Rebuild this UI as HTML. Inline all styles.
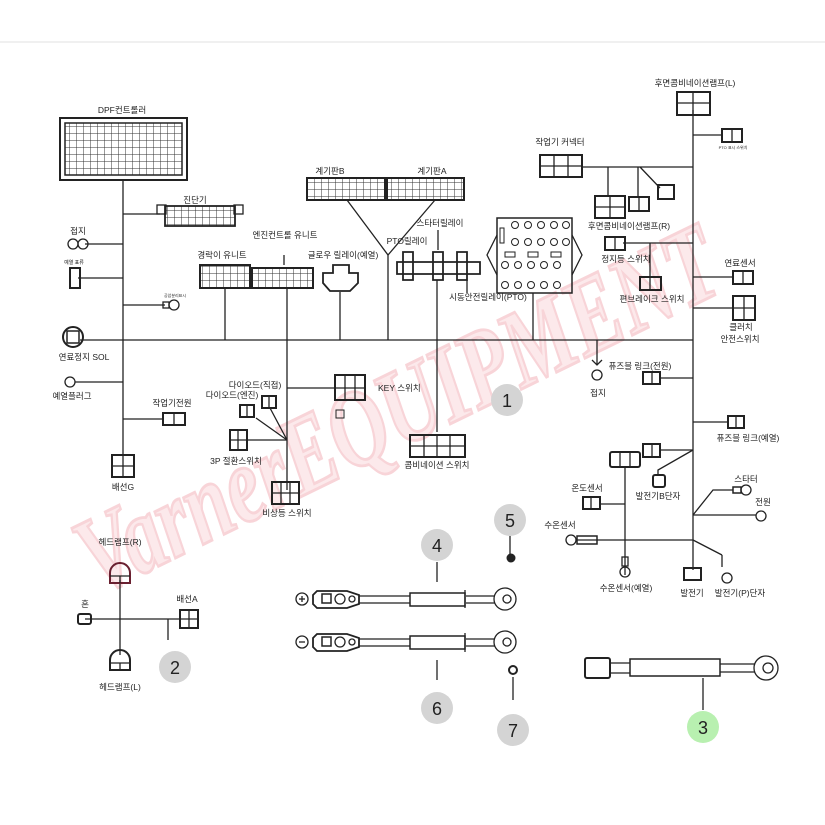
<!DOCTYPE html>
<html><head><meta charset="utf-8"><style>
html,body{margin:0;padding:0;background:#fff}
svg{display:block}
text{font-family:"Liberation Sans","Noto Sans CJK KR",sans-serif;fill:#222}
</style></head><body>
<svg width="825" height="825" viewBox="0 0 825 825" xmlns="http://www.w3.org/2000/svg">
<defs>
<pattern id="g" width="7" height="7" patternUnits="userSpaceOnUse"><path d="M0 0H7V7" fill="none" stroke="#333" stroke-width="1"/></pattern>
</defs>
<rect width="825" height="825" fill="#fff"/>
<line x1="0" y1="42" x2="825" y2="42" stroke="#e2e2e2" stroke-width="1"/>

<!-- watermark -->
<g transform="translate(400,415) rotate(-26)" opacity="0.22">
<text x="0" y="30" text-anchor="middle" font-size="110" font-style="italic" font-weight="bold" textLength="700" lengthAdjust="spacingAndGlyphs" style="fill:#f4a0a8;stroke:#e04050;stroke-width:3;font-family:'Liberation Serif',serif">VarnerEQUIPMENT</text>
</g>

<g stroke="#222" stroke-width="1.3" fill="none">
<line x1="80" y1="340" x2="693" y2="340"/>
<line x1="123" y1="180" x2="123" y2="455"/>
<line x1="693" y1="110" x2="693" y2="570"/>
<rect x="60" y="118" width="127" height="62" stroke-width="2"/>
<rect x="65" y="123" width="117" height="52" fill="url(#g)" stroke-width="1.5"/>
<line x1="123" y1="214" x2="160" y2="214"/>
<rect x="165" y="206" width="70" height="20" fill="url(#g)" stroke-width="1.8"/>
<rect x="157" y="205" width="9" height="9"/><rect x="234" y="205" width="9" height="9"/>
<line x1="85" y1="244" x2="123" y2="244"/>
<circle cx="73" cy="244" r="5"/><circle cx="83" cy="244" r="5"/>
<line x1="78" y1="278" x2="123" y2="278"/>
<rect x="70" y="268" width="10" height="20" stroke-width="2"/>
<line x1="123" y1="305" x2="165" y2="305"/>
<circle cx="174" cy="305" r="5"/><rect x="163" y="302" width="6" height="6"/>
<circle cx="73" cy="337" r="10" stroke-width="2"/><rect x="67" y="331" width="12" height="12" stroke-width="1.5"/>
<line x1="75" y1="382" x2="123" y2="382"/><circle cx="70" cy="382" r="5"/>
<line x1="123" y1="419" x2="163" y2="419"/>
<rect x="163" y="413" width="22" height="12" stroke-width="2"/><line x1="174" y1="413" x2="174" y2="425"/>
<rect x="112" y="455" width="22" height="22" stroke-width="2"/><line x1="123" y1="455" x2="123" y2="477"/><line x1="112" y1="466" x2="134" y2="466"/>
<rect x="307" y="178" width="78" height="22" fill="url(#g)" stroke-width="2"/>
<rect x="387" y="178" width="77" height="22" fill="url(#g)" stroke-width="2"/>
<line x1="347" y1="200" x2="388" y2="255"/><line x1="435" y1="200" x2="388" y2="255"/>
<line x1="388" y1="255" x2="388" y2="340"/>
<rect x="200" y="265" width="50" height="23" fill="url(#g)" stroke-width="2"/>
<rect x="252" y="268" width="61" height="20" fill="url(#g)" stroke-width="2"/>
<line x1="284" y1="255" x2="284" y2="265"/>
<line x1="225" y1="288" x2="225" y2="340"/>
<line x1="287" y1="288" x2="287" y2="490"/>
<path d="M323 273h10v-8h16v8h9v10l-8 8h-20l-7-8z" stroke-width="1.8"/>
<line x1="340" y1="292" x2="340" y2="340"/>
<path d="M397 262h83v12h-83z M403 252h10v28h-10z M433 252h10v28h-10z M457 252h10v28h-10z" stroke-width="1.8"/>
<line x1="438" y1="230" x2="438" y2="250"/>
<line x1="437" y1="280" x2="437" y2="340"/>
<line x1="467" y1="280" x2="467" y2="293"/>
<rect x="497" y="218" width="75" height="75" stroke-width="1.5"/>
<path d="M497 235l-10 20 10 20M572 235l10 20-10 20"/>
<g stroke-width="1">
<circle cx="515" cy="225" r="3.5"/><circle cx="528" cy="225" r="3.5"/><circle cx="541" cy="225" r="3.5"/><circle cx="554" cy="225" r="3.5"/><circle cx="566" cy="225" r="3.5"/>
<circle cx="515" cy="242" r="3.5"/><circle cx="528" cy="242" r="3.5"/><circle cx="541" cy="242" r="3.5"/><circle cx="554" cy="242" r="3.5"/><circle cx="566" cy="242" r="3.5"/>
<circle cx="505" cy="265" r="3.5"/><circle cx="518" cy="265" r="3.5"/><circle cx="531" cy="265" r="3.5"/><circle cx="544" cy="265" r="3.5"/><circle cx="557" cy="265" r="3.5"/>
<circle cx="505" cy="285" r="3.5"/><circle cx="518" cy="285" r="3.5"/><circle cx="531" cy="285" r="3.5"/><circle cx="544" cy="285" r="3.5"/><circle cx="557" cy="285" r="3.5"/>
<rect x="505" y="252" width="10" height="5"/><rect x="528" y="252" width="10" height="5"/><rect x="551" y="252" width="10" height="5"/>
<rect x="500" y="228" width="4" height="15"/>
</g>
<line x1="533" y1="293" x2="533" y2="340"/>
<rect x="677" y="92" width="33" height="23" stroke-width="2"/><line x1="693" y1="92" x2="693" y2="115"/><line x1="677" y1="103" x2="710" y2="103"/>
<line x1="693" y1="135" x2="722" y2="135"/>
<rect x="722" y="129" width="20" height="13" stroke-width="2"/><line x1="732" y1="129" x2="732" y2="142"/>
<line x1="582" y1="167" x2="693" y2="167"/>
<rect x="540" y="155" width="42" height="22" stroke-width="2"/><line x1="554" y1="155" x2="554" y2="177"/><line x1="568" y1="155" x2="568" y2="177"/><line x1="540" y1="166" x2="582" y2="166"/>
<line x1="608" y1="167" x2="608" y2="196"/><line x1="638" y1="167" x2="638" y2="197"/><line x1="640" y1="167" x2="660" y2="188"/>
<rect x="595" y="196" width="30" height="22" stroke-width="2"/><line x1="610" y1="196" x2="610" y2="218"/><line x1="595" y1="207" x2="625" y2="207"/>
<rect x="629" y="197" width="20" height="14" stroke-width="2"/><line x1="639" y1="197" x2="639" y2="211"/>
<rect x="658" y="185" width="16" height="14" stroke-width="2"/>
<line x1="623" y1="243" x2="693" y2="243"/>
<rect x="605" y="237" width="20" height="13" stroke-width="2"/><line x1="615" y1="237" x2="615" y2="250"/>
<line x1="650" y1="243" x2="650" y2="277"/>
<rect x="640" y="277" width="21" height="13" stroke-width="2"/><line x1="650" y1="277" x2="650" y2="290"/>
<line x1="693" y1="277" x2="733" y2="277"/>
<rect x="733" y="271" width="20" height="13" stroke-width="2"/><line x1="743" y1="271" x2="743" y2="284"/>
<line x1="693" y1="308" x2="733" y2="308"/>
<rect x="733" y="296" width="22" height="24" stroke-width="2"/><line x1="744" y1="296" x2="744" y2="320"/><line x1="733" y1="308" x2="755" y2="308"/>
<line x1="597" y1="340" x2="597" y2="365"/><path d="M592 360l5 5 5-5"/><circle cx="597" cy="375" r="5"/>
<line x1="660" y1="378" x2="693" y2="378"/>
<rect x="643" y="372" width="17" height="12" stroke-width="2"/><line x1="652" y1="372" x2="652" y2="384"/>
<line x1="693" y1="422" x2="728" y2="422"/>
<rect x="728" y="416" width="16" height="12" stroke-width="2"/><line x1="736" y1="416" x2="736" y2="428"/>
<line x1="660" y1="450" x2="693" y2="450"/><path d="M693 450l-35 20v6"/>
<rect x="643" y="444" width="17" height="13" stroke-width="2"/><line x1="652" y1="444" x2="652" y2="457"/>
<rect x="610" y="452" width="30" height="15" rx="2" stroke-width="2"/><line x1="620" y1="452" x2="620" y2="467"/><line x1="630" y1="452" x2="630" y2="467"/>
<rect x="653" y="475" width="12" height="12" rx="2" stroke-width="2"/>
<line x1="625" y1="467" x2="625" y2="575"/>
<line x1="600" y1="504" x2="625" y2="504"/>
<rect x="583" y="497" width="17" height="12" stroke-width="2"/><line x1="591" y1="497" x2="591" y2="509"/>
<path d="M693 515l20-25h20"/><rect x="733" y="487" width="8" height="6" stroke-width="1.5"/><circle cx="746" cy="490" r="5"/>
<line x1="693" y1="515" x2="756" y2="515"/><circle cx="761" cy="516" r="5"/>
<line x1="577" y1="540" x2="693" y2="540"/><circle cx="571" cy="540" r="5"/>
<rect x="577" y="536" width="20" height="8" stroke-width="1.5"/>
<rect x="622" y="557" width="6" height="9"/><circle cx="625" cy="572" r="5"/>
<line x1="693" y1="540" x2="722" y2="555"/><line x1="722" y1="555" x2="722" y2="567"/><circle cx="727" cy="578" r="5"/>
<rect x="684" y="568" width="17" height="12" stroke-width="2"/>
<line x1="287" y1="388" x2="335" y2="388"/>
<rect x="335" y="375" width="30" height="25" stroke-width="2"/><line x1="345" y1="375" x2="345" y2="400"/><line x1="355" y1="375" x2="355" y2="400"/><line x1="335" y1="388" x2="365" y2="388"/>
<rect x="336" y="410" width="8" height="8" stroke-width="1"/>
<rect x="262" y="396" width="14" height="12" stroke-width="2"/><line x1="269" y1="396" x2="269" y2="408"/>
<rect x="240" y="405" width="14" height="12" stroke-width="2"/><line x1="247" y1="405" x2="247" y2="417"/>
<line x1="270" y1="408" x2="287" y2="440"/><line x1="256" y1="418" x2="287" y2="440"/><line x1="247" y1="440" x2="287" y2="440"/>
<rect x="230" y="430" width="17" height="20" stroke-width="2"/><line x1="238" y1="430" x2="238" y2="450"/><line x1="230" y1="440" x2="247" y2="440"/>
<rect x="272" y="482" width="27" height="22" stroke-width="2"/><line x1="281" y1="482" x2="281" y2="504"/><line x1="290" y1="482" x2="290" y2="504"/><line x1="272" y1="493" x2="299" y2="493"/>
<line x1="437" y1="340" x2="437" y2="432"/>
<rect x="410" y="435" width="55" height="22" stroke-width="2"/><line x1="424" y1="435" x2="424" y2="457"/><line x1="437" y1="435" x2="437" y2="457"/><line x1="450" y1="435" x2="450" y2="457"/><line x1="410" y1="446" x2="465" y2="446"/>
<line x1="120" y1="580" x2="120" y2="655"/>
<line x1="85" y1="619" x2="180" y2="619"/>
<line x1="168" y1="619" x2="168" y2="640"/>
<path d="M110 583v-10a10 10 0 0 1 20 0v10z" stroke-width="2" stroke="#6a2030"/>
<line x1="110" y1="576" x2="130" y2="576"/><line x1="120" y1="576" x2="120" y2="583"/>
<path d="M110 670v-10a10 10 0 0 1 20 0v10z" stroke-width="2"/>
<line x1="110" y1="663" x2="130" y2="663"/><line x1="120" y1="663" x2="120" y2="670"/>
<rect x="78" y="614" width="13" height="10" rx="2" stroke-width="2"/>
<rect x="180" y="610" width="18" height="18" stroke-width="2"/><line x1="189" y1="610" x2="189" y2="628"/><line x1="180" y1="619" x2="198" y2="619"/>
<circle cx="302" cy="599" r="6"/><line x1="299" y1="599" x2="305" y2="599"/><line x1="302" y1="596" x2="302" y2="602"/>
<path d="M317 591h30l12 4v9l-12 4h-30l-4-4v-9z" stroke-width="1.8"/>
<rect x="322" y="594" width="9" height="9" stroke-width="1.5"/><circle cx="340" cy="599" r="5"/><circle cx="352" cy="599" r="3"/>
<line x1="359" y1="596" x2="410" y2="596"/><line x1="359" y1="603" x2="410" y2="603"/>
<rect x="410" y="593" width="55" height="13" stroke-width="1.5"/>
<line x1="465" y1="590" x2="465" y2="608"/>
<line x1="466" y1="596" x2="495" y2="596"/><line x1="466" y1="603" x2="495" y2="603"/>
<circle cx="505" cy="599" r="11"/><circle cx="507" cy="599" r="4"/>
<circle cx="302" cy="642" r="6"/><line x1="299" y1="642" x2="305" y2="642"/>
<path d="M317 634h30l12 4v9l-12 4h-30l-4-4v-9z" stroke-width="1.8"/>
<rect x="322" y="637" width="9" height="9" stroke-width="1.5"/><circle cx="340" cy="642" r="5"/><circle cx="352" cy="642" r="3"/>
<line x1="359" y1="639" x2="410" y2="639"/><line x1="359" y1="646" x2="410" y2="646"/>
<rect x="410" y="636" width="55" height="13" stroke-width="1.5"/>
<line x1="465" y1="633" x2="465" y2="652"/>
<line x1="466" y1="639" x2="495" y2="639"/><line x1="466" y1="646" x2="495" y2="646"/>
<circle cx="505" cy="642" r="11"/><circle cx="507" cy="642" r="4"/>
<line x1="437" y1="562" x2="437" y2="582"/><line x1="437" y1="660" x2="437" y2="680"/>
<line x1="510" y1="536" x2="510" y2="555"/><line x1="513" y1="677" x2="513" y2="700"/>
<circle cx="513" cy="670" r="4" stroke-width="2"/>
<rect x="585" y="658" width="25" height="20" rx="2" stroke-width="2"/>
<line x1="610" y1="663" x2="630" y2="663"/><line x1="610" y1="673" x2="630" y2="673"/>
<rect x="630" y="659" width="90" height="17" stroke-width="1.5"/>
<line x1="720" y1="664" x2="755" y2="664"/><line x1="720" y1="672" x2="755" y2="672"/>
<circle cx="766" cy="668" r="12"/><circle cx="768" cy="668" r="5"/>
<line x1="703" y1="678" x2="703" y2="710"/>
</g>
<circle cx="511" cy="558" r="4.5" fill="#222"/>

<g fill="#d4d4d4">
<circle cx="507" cy="400" r="16"/><circle cx="175" cy="667" r="16"/><circle cx="437" cy="545" r="16"/>
<circle cx="510" cy="520" r="16"/><circle cx="437" cy="708" r="16"/><circle cx="513" cy="730" r="16"/>
</g>
<circle cx="703" cy="727" r="16" fill="#b8f0b0"/>
<g font-size="18" text-anchor="middle">
<text x="507" y="407">1</text><text x="175" y="674">2</text><text x="703" y="734">3</text><text x="437" y="552">4</text>
<text x="510" y="527">5</text><text x="437" y="715">6</text><text x="513" y="737">7</text>
</g>

<g font-size="8.5" text-anchor="middle">
<text x="122" y="113">DPF컨트롤러</text>
<text x="195" y="203">진단기</text>
<text x="78" y="234">접지</text>
<text x="74" y="264" font-size="5">예열 표류</text>
<text x="175" y="297" font-size="4">공압분리표시</text>
<text x="84" y="360">연료정지 SOL</text>
<text x="72" y="399">예열플러그</text>
<text x="172" y="406">작업기전원</text>
<text x="123" y="490">배선G</text>
<text x="330" y="174">계기판B</text>
<text x="432" y="174">계기판A</text>
<text x="222" y="258">경락이 유니트</text>
<text x="285" y="238">엔진컨트롤 유니트</text>
<text x="343" y="258">글로우 릴레이(예열)</text>
<text x="407" y="244">PTO릴레이</text>
<text x="440" y="226">스타터릴레이</text>
<text x="488" y="300">시동안전릴레이(PTO)</text>
<text x="560" y="145">작업기 커넥터</text>
<text x="695" y="86">후면콤비네이션램프(L)</text>
<text x="733" y="149" font-size="4">PTO 표시 스위치</text>
<text x="629" y="229">후면콤비네이션램프(R)</text>
<text x="626" y="262">정지등 스위치</text>
<text x="652" y="302">편브레이크 스위치</text>
<text x="740" y="266">연료센서</text>
<text x="741" y="330">클러치</text>
<text x="740" y="342">안전스위치</text>
<text x="640" y="369">퓨즈블 링크(전원)</text>
<text x="598" y="396">접지</text>
<text x="748" y="441">퓨즈블 링크(예열)</text>
<text x="658" y="499">발전기B단자</text>
<text x="587" y="491">온도센서</text>
<text x="560" y="528">수온센서</text>
<text x="626" y="591">수온센서(예열)</text>
<text x="746" y="482">스타터</text>
<text x="763" y="505">전원</text>
<text x="692" y="596">발전기</text>
<text x="740" y="596">발전기(P)단자</text>
<text x="378" y="391" text-anchor="start">KEY 스위치</text>
<text x="255" y="388">다이오드(직접)</text>
<text x="232" y="398">다이오드(엔진)</text>
<text x="236" y="464">3P 절환스위치</text>
<text x="287" y="516">비상등 스위치</text>
<text x="437" y="468">콤비네이션 스위치</text>
<text x="120" y="545">헤드램프(R)</text>
<text x="120" y="690">헤드램프(L)</text>
<text x="85" y="607">혼</text>
<text x="187" y="602">배선A</text>
</g>
</svg>
</body></html>
